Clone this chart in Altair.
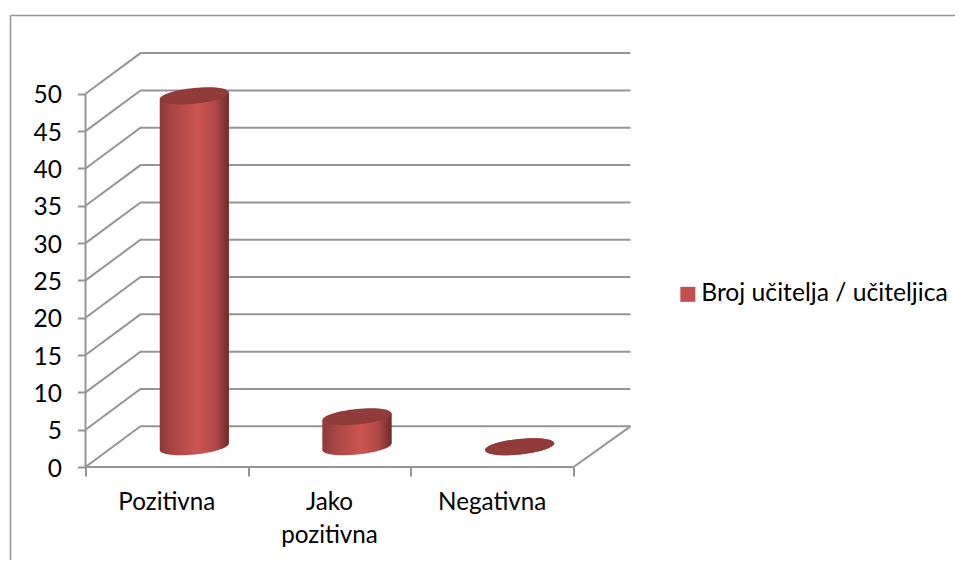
import altair as alt
import pandas as pd

# --- chart values ---
categories = ["Pozitivna", "Jako\npozitivna", "Negativna"]
values = [47, 4, 0]
series_name = "Broj učitelja / učiteljica"
y_ticks = [0, 5, 10, 15, 20, 25, 30, 35, 40, 45, 50]
x_ticks = [0, 1, 2, 3]

# 3-D projection expressed in data units
DEPTH_X = 0.338
DEPTH_Y = 5.45
X_MAX = 3.35
Y_MAX = 55.6
HALF_W = 0.212
TILT = 0.47

FONT = "Lato"
GRID = "#959595"
LINE_W = 2
INK = "#000000"

x_scale = alt.Scale(domain=[0, X_MAX], nice=False, zero=False)
y_scale = alt.Scale(domain=[0, Y_MAX], nice=False, zero=False)
x_axis = alt.Axis(values=x_ticks, labels=False, domain=False, grid=False,
                  tickSize=9, tickColor=GRID, tickWidth=LINE_W, title=None)
y_axis = alt.Axis(values=y_ticks, domain=False, grid=False, tickSize=8,
                  tickColor=GRID, tickWidth=LINE_W, labelPadding=16, labelOffset=2,
                  labelFont=FONT, labelFontSize=24.5, labelColor=INK, title=None)

X = lambda f="x": alt.X(f"{f}:Q", scale=x_scale, axis=x_axis, title=None)
Y = lambda f="y": alt.Y(f"{f}:Q", scale=y_scale, axis=y_axis, title=None)

# wireframe of the 3-D walls and floor
wire = []
for v in y_ticks:
    wire += [dict(k=f"g{v}", o=0, x=0, y=v),
             dict(k=f"g{v}", o=1, x=DEPTH_X, y=v + DEPTH_Y),
             dict(k=f"g{v}", o=2, x=X_MAX, y=v + DEPTH_Y)]
wire += [dict(k="axis", o=0, x=0, y=0), dict(k="axis", o=1, x=0, y=y_ticks[-1]),
         dict(k="front", o=0, x=0, y=0), dict(k="front", o=1, x=x_ticks[-1], y=0),
         dict(k="side", o=0, x=x_ticks[-1], y=0), dict(k="side", o=1, x=X_MAX, y=DEPTH_Y)]
wire_df = pd.DataFrame(wire)

wire_layer = alt.Chart(wire_df).mark_line(color=GRID, strokeWidth=LINE_W, clip=False).encode(
    x=X(), y=Y(), detail="k:N", order="o:Q",
)

# cylinders
centers = [i + 0.5 + DEPTH_X / 2 for i in range(len(values))]
base = DEPTH_Y / 2
body = []
for c, v in zip(centers, values):
    body += [dict(cat=c, s=series_name, x=c - HALF_W, y=base + v - TILT, y2=base - TILT),
             dict(cat=c, s=series_name, x=c + HALF_W, y=base + v + TILT, y2=base + TILT)]
body_df = pd.DataFrame(body)
ends = pd.DataFrame({"x": centers, "bottom": [base] * 3,
                     "top": [base + v for v in values]})

shaft = alt.Gradient(
    gradient="linear", x1=0, x2=1, y1=0, y2=0,
    stops=[alt.GradientStop(color="#8a3a38", offset=0),
           alt.GradientStop(color="#a84644", offset=0.18),
           alt.GradientStop(color="#cd5452", offset=0.55),
           alt.GradientStop(color="#b04a47", offset=0.8),
           alt.GradientStop(color="#6e2c2a", offset=1)])

ELLIPSE = "M -0.995 0.1 A 1 0.225 -5.8 1 1 0.995 -0.1 A 1 0.225 -5.8 1 1 -0.995 0.1 Z"
ELL_SIZE = 4816

legend_base = alt.Chart(body_df).mark_area(clip=False).encode(
    x=X(), y=Y(), y2="y2:Q", detail="cat:N",
    color=alt.Color("s:N", scale=alt.Scale(range=["#c0504d"]), title=None,
                    legend=alt.Legend(orient="none", legendX=590, legendY=230,
                                      symbolType="square", symbolSize=225,
                                      symbolStrokeWidth=0,
                                      labelFont=FONT, labelFontSize=24.7, labelColor=INK,
                                      labelOffset=1, labelLimit=400, padding=0)),
)
bottom_cap = alt.Chart(ends).mark_point(shape=ELLIPSE, size=ELL_SIZE, filled=True, fill=shaft,
                                        opacity=1, strokeWidth=0, clip=False).encode(
    x=X(), y=Y("bottom"))
shaft_layer = alt.Chart(body_df).mark_area(fill=shaft, clip=False).encode(
    x=X(), y=Y(), y2="y2:Q", detail="cat:N")
top_cap = alt.Chart(ends).mark_point(shape=ELLIPSE, size=ELL_SIZE, filled=True, fill="#913b3a",
                                     opacity=1, strokeWidth=0, clip=False).encode(
    x=X(), y=Y("top"))

labels_df = pd.DataFrame({"x": [i + 0.5 for i in range(len(categories))],
                          "y": [0] * len(categories), "t": categories})
labels = alt.Chart(labels_df).mark_text(
    font=FONT, fontSize=24.2, color=INK, lineBreak="\n", lineHeight=33,
    baseline="top", align="center", dy=24, clip=False,
).encode(x=X(), y=Y(), text="t:N")

# outer chart-area frame
frame_top = alt.Chart(pd.DataFrame({"a": [0]})).mark_rule(color=GRID, strokeWidth=1.5).encode(
    x=alt.value(-75), x2=alt.value(880), y=alt.value(-36.5))
frame_left = alt.Chart(pd.DataFrame({"a": [0]})).mark_rule(color=GRID, strokeWidth=1.5).encode(
    x=alt.value(-75), y=alt.value(-36.5), y2=alt.value(510))

chart = alt.layer(frame_top, frame_left, wire_layer, legend_base, bottom_cap, shaft_layer,
                  top_cap, labels).properties(
    width=545, height=415,
    padding={"left": 77.5, "top": 44, "right": 324, "bottom": 93},
    autosize=alt.AutoSizeParams(type="none"),
    background="white",
).configure_view(stroke=None)

chart.save("out.html", embed_options={"renderer": "svg", "actions": False})
